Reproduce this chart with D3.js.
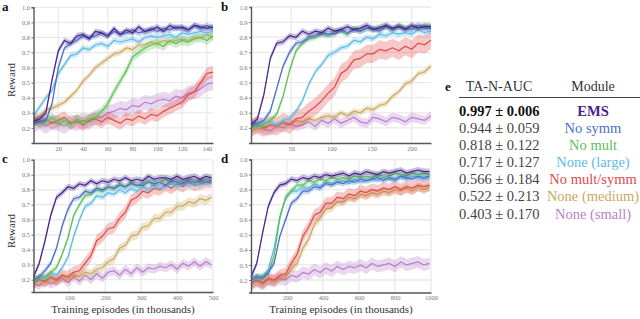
<!DOCTYPE html>
<html>
<head>
<meta charset="utf-8">
<script src="https://cdn.jsdelivr.net/npm/d3@7"></script>
<style>
  body { margin: 0; background: #fff; }
  svg { display: block; }
  svg text { font-family: "Liberation Serif", "Times New Roman", "DejaVu Serif", serif !important; }
</style>
</head>
<body>
<svg id="chart" width="640" height="319"></svg>
<script>
// learning curves, reward x100, one array per module and panel

const modules = ['EMS', 'No symm', 'No mult', 'None (large)', 'No mult/symm', 'None (medium)', 'None (small)'];
const colors = ['#46238d', '#4a71c6', '#5cc055', '#5dbbe8', '#e04a4a', '#c9a95e', '#b77fcb'];
const aucMean = ['0.997', '0.944', '0.818', '0.717', '0.566', '0.522', '0.403'];
const aucSd = ['0.006', '0.059', '0.122', '0.127', '0.184', '0.213', '0.170'];

// panel a
const aX = [0, 5, 10, 15, 20, 25, 30, 35, 40, 45, 50, 55, 60, 65, 70, 75, 80, 85, 90, 95, 100, 105, 110, 115, 120, 125, 130, 135, 140, 145];
const aEMS = [24, 26, 30, 52, 71, 78, 76, 81, 82, 79, 84, 83, 81, 86, 82, 85, 83, 87, 84, 85, 87, 84, 88, 86, 87, 85, 88, 87, 86, 87];
const aNoSymm = [23, 24, 25, 36, 60, 73, 76, 78, 81, 80, 81, 83, 81, 84, 82, 83, 85, 83, 84, 86, 84, 86, 85, 87, 86, 85, 88, 86, 88, 86];
const aNoMult = [25, 23, 24, 27, 23, 25, 22, 26, 24, 26, 27, 31, 36, 44, 51, 58, 67, 70, 73, 75, 76, 74, 78, 76, 78, 77, 79, 80, 78, 81];
const aLarge = [28, 34, 40, 45, 56, 62, 68, 69, 73, 72, 75, 76, 74, 78, 77, 78, 79, 77, 80, 81, 80, 81, 82, 80, 83, 82, 83, 84, 83, 84];
const aMultSymm = [27, 24, 26, 23, 25, 27, 23, 25, 22, 25, 26, 24, 27, 25, 23, 26, 25, 28, 26, 29, 28, 31, 33, 35, 37, 42, 44, 50, 56, 57];
const aMedium = [25, 28, 32, 33, 35, 37, 41, 45, 51, 55, 60, 63, 66, 69, 70, 73, 72, 75, 75, 77, 76, 78, 77, 78, 79, 78, 80, 80, 82, 80];
const aSmall = [22, 24, 21, 24, 23, 21, 24, 23, 25, 24, 27, 27, 30, 31, 33, 32, 35, 34, 37, 36, 38, 39, 38, 41, 40, 43, 44, 46, 49, 50];
const aBand = [2, 2, 3, 2, 4, 2, 5];

// panel b
const bX = [0, 8, 16, 24, 32, 40, 48, 56, 64, 72, 80, 88, 96, 104, 112, 120, 128, 136, 144, 152, 160, 168, 176, 184, 192, 200, 208, 216, 224];
const bEMS = [22, 26, 42, 66, 76, 77, 81, 80, 84, 82, 84, 83, 86, 84, 85, 87, 85, 86, 88, 85, 86, 88, 86, 87, 85, 88, 86, 87, 87];
const bNoSymm = [22, 23, 25, 31, 46, 61, 70, 76, 77, 80, 81, 83, 82, 82, 85, 83, 85, 84, 86, 86, 84, 87, 85, 87, 86, 85, 88, 86, 86];
const bNoMult = [20, 21, 22, 25, 29, 41, 58, 71, 76, 79, 80, 82, 81, 84, 84, 82, 86, 84, 86, 85, 87, 87, 85, 88, 86, 87, 86, 88, 87];
const bLarge = [24, 22, 23, 24, 22, 25, 26, 31, 38, 49, 57, 62, 68, 70, 73, 74, 78, 77, 80, 79, 82, 81, 83, 82, 83, 82, 85, 83, 84];
const bMultSymm = [20, 22, 20, 22, 21, 24, 22, 26, 27, 31, 34, 38, 43, 47, 56, 59, 65, 66, 69, 69, 72, 71, 73, 71, 74, 72, 76, 75, 78];
const bMedium = [18, 20, 19, 22, 21, 23, 22, 25, 24, 26, 25, 27, 28, 27, 30, 28, 31, 30, 33, 32, 35, 36, 41, 44, 49, 51, 56, 57, 61];
const bSmall = [18, 20, 19, 18, 21, 20, 23, 21, 22, 24, 21, 25, 23, 26, 23, 25, 27, 24, 23, 27, 26, 24, 27, 26, 24, 27, 26, 25, 28];
const bBand = [2, 2, 2, 2, 6, 2, 3];

// panel c
const cX = [0, 16, 32, 48, 64, 80, 96, 112, 128, 144, 160, 176, 192, 208, 224, 240, 256, 272, 288, 304, 320, 336, 352, 368, 384, 400, 416, 432, 448, 464, 480, 496];
const cEMS = [22, 31, 46, 63, 75, 78, 82, 81, 84, 83, 86, 84, 86, 85, 87, 86, 88, 86, 87, 86, 89, 87, 88, 88, 87, 89, 87, 88, 89, 87, 89, 88];
const cNoSymm = [20, 22, 26, 31, 41, 56, 67, 74, 75, 79, 78, 81, 80, 82, 81, 83, 82, 84, 83, 83, 85, 84, 85, 83, 86, 85, 84, 86, 85, 86, 85, 86];
const cNoMult = [18, 21, 22, 25, 28, 37, 48, 63, 70, 76, 77, 80, 79, 82, 81, 84, 82, 85, 83, 84, 86, 84, 85, 87, 85, 86, 85, 87, 86, 85, 87, 86];
const cLarge = [20, 22, 21, 24, 23, 28, 35, 49, 60, 69, 71, 76, 75, 78, 77, 80, 78, 81, 79, 82, 80, 83, 81, 82, 84, 82, 84, 83, 84, 83, 85, 84];
const cMultSymm = [18, 20, 19, 22, 20, 23, 22, 25, 26, 31, 36, 46, 49, 54, 55, 61, 65, 73, 75, 79, 78, 81, 80, 83, 81, 84, 82, 85, 83, 84, 85, 85];
const cMedium = [18, 20, 18, 21, 19, 22, 21, 23, 22, 25, 24, 27, 28, 32, 34, 41, 43, 49, 50, 55, 56, 61, 61, 65, 65, 69, 69, 72, 71, 74, 73, 75];
const cSmall = [18, 16, 20, 17, 19, 21, 18, 22, 19, 23, 20, 24, 21, 25, 26, 23, 27, 24, 28, 25, 28, 27, 29, 28, 30, 27, 31, 29, 32, 29, 32, 30];
const cBand = [2, 2, 2, 2, 4, 3, 3];

// panel d
const dX = [0, 32, 64, 96, 128, 160, 192, 224, 256, 288, 320, 352, 384, 416, 448, 480, 512, 544, 576, 608, 640, 672, 704, 736, 768, 800, 832, 864, 896, 928, 960, 992];
const dEMS = [22, 31, 51, 69, 78, 83, 84, 87, 86, 88, 87, 89, 88, 90, 89, 90, 91, 89, 91, 90, 92, 91, 90, 92, 91, 92, 93, 91, 92, 93, 92, 92];
const dNoSymm = [20, 22, 21, 25, 31, 49, 60, 71, 74, 79, 79, 82, 81, 84, 83, 85, 84, 86, 85, 87, 86, 87, 88, 86, 88, 87, 89, 88, 87, 89, 88, 89];
const dNoMult = [20, 21, 23, 24, 36, 61, 75, 79, 83, 83, 86, 85, 87, 86, 88, 87, 88, 87, 89, 88, 89, 88, 90, 89, 89, 91, 90, 89, 91, 90, 91, 90];
const dLarge = [22, 23, 22, 27, 41, 62, 74, 79, 79, 82, 81, 84, 82, 85, 84, 85, 86, 84, 87, 85, 86, 87, 86, 88, 87, 86, 88, 87, 89, 88, 87, 88];
const dMultSymm = [18, 20, 18, 21, 20, 23, 24, 31, 37, 49, 55, 63, 65, 71, 71, 75, 74, 77, 76, 79, 78, 80, 79, 81, 80, 82, 80, 82, 81, 83, 82, 83];
const dMedium = [17, 19, 17, 20, 19, 22, 22, 27, 31, 41, 47, 57, 61, 67, 68, 72, 72, 75, 74, 77, 76, 78, 77, 79, 78, 80, 79, 81, 79, 82, 80, 82];
const dSmall = [17, 19, 17, 20, 19, 21, 20, 23, 22, 25, 24, 27, 25, 28, 26, 29, 27, 29, 28, 30, 28, 31, 29, 30, 31, 29, 32, 30, 31, 32, 30, 31];
const dBand = [2, 2, 2, 2, 4, 3, 4];

const xTicksA = [20, 40, 60, 80, 100, 120, 140];
const xTicksB = [50, 100, 150, 200];
const xTicksC = [100, 200, 300, 400, 500];
const xTicksD = [200, 400, 600, 800, 1000];
const yTicks = [0.2, 0.3, 0.4, 0.5, 0.6, 0.7, 0.8, 0.9, 1.0];

const serif = '"Liberation Serif", "Times New Roman", serif';
const svg = d3.select('#chart');

const panels = [
  { id: 'a', xs: aX, series: [aEMS, aNoSymm, aNoMult, aLarge, aMultSymm, aMedium, aSmall], band: aBand,
    xmax: 145, ticks: xTicksA, left: 33.5, right: 213, top: 7.3, bottom: 143, ymin: 0.1, lx: 2, ly: 11 },
  { id: 'b', xs: bX, series: [bEMS, bNoSymm, bNoMult, bLarge, bMultSymm, bMedium, bSmall], band: bBand,
    xmax: 224, ticks: xTicksB, left: 251, right: 431, top: 7, bottom: 143, ymin: 0.1, lx: 221, ly: 11 },
  { id: 'c', xs: cX, series: [cEMS, cNoSymm, cNoMult, cLarge, cMultSymm, cMedium, cSmall], band: cBand,
    xmax: 500, ticks: xTicksC, left: 33.5, right: 213, top: 159.8, bottom: 292, ymin: 0.118, lx: 2, ly: 163 },
  { id: 'd', xs: dX, series: [dEMS, dNoSymm, dNoMult, dLarge, dMultSymm, dMedium, dSmall], band: dBand,
    xmax: 1000, ticks: xTicksD, left: 251, right: 431, top: 159.5, bottom: 292.5, ymin: 0.117, lx: 221, ly: 163 }
];

panels.forEach(p => {
  const x = d3.scaleLinear().domain([0, p.xmax]).range([p.left, p.right]);
  const y = d3.scaleLinear().domain([p.ymin, 1.0]).range([p.bottom, p.top]);
  const g = svg.append('g');

  // grid
  g.selectAll('.hg').data(yTicks).enter().append('line')
    .attr('x1', p.left).attr('x2', p.right)
    .attr('y1', d => y(d)).attr('y2', d => y(d))
    .attr('stroke', '#e9e9e9').attr('stroke-width', 1.3);
  g.selectAll('.vg').data(p.ticks).enter().append('line')
    .attr('x1', d => x(d)).attr('x2', d => x(d))
    .attr('y1', p.top).attr('y2', p.bottom)
    .attr('stroke', '#e9e9e9').attr('stroke-width', 1.3);

  // curves, weakest first so EMS ends on top
  const order = [6, 5, 4, 3, 2, 1, 0];
  order.forEach(i => {
    const vals = p.series[i];
    const pts = p.xs.map((xv, k) => [xv, vals[k] / 100]);
    const hw = p.band[i] / 100;
    const area = d3.area()
      .x(d => x(d[0]))
      .y0(d => y(d[1] - hw))
      .y1(d => y(d[1] + hw));
    const line = d3.line().x(d => x(d[0])).y(d => y(d[1]));
    g.append('path').attr('d', area(pts))
      .attr('fill', colors[i]).attr('fill-opacity', 0.3);
    g.append('path').attr('d', line(pts))
      .attr('fill', 'none').attr('stroke', colors[i]).attr('stroke-width', 1.2);
  });

  // axes
  const yAxis = g.append('g').attr('transform', `translate(${p.left},0)`)
    .call(d3.axisLeft(y).tickValues(yTicks).tickSize(2).tickPadding(1.5).tickFormat(d3.format('.1f')));
  const xAxis = g.append('g').attr('transform', `translate(0,${p.bottom})`)
    .call(d3.axisBottom(x).tickValues(p.ticks).tickSize(0).tickPadding(3).tickFormat(d3.format('d')));
  [yAxis, xAxis].forEach(ax => {
    ax.attr('font-family', serif);
    ax.select('.domain').attr('stroke', '#555').attr('stroke-width', 1.4);
    ax.selectAll('.tick line').attr('stroke', '#777');
    ax.selectAll('.tick text').attr('fill', '#777').attr('font-size', 6.5);
  });

  svg.append('text').attr('x', p.lx).attr('y', p.ly)
    .attr('font-family', serif)
    .attr('font-weight', 'bold').attr('font-size', 13).attr('fill', '#111')
    .text(p.id);
});

// axis titles
[80, 231].forEach(cy => {
  svg.append('text')
    .attr('transform', `translate(15,${cy}) rotate(-90)`)
    .attr('font-family', serif)
    .attr('text-anchor', 'middle').attr('font-size', 11).attr('fill', '#333')
    .text('Reward');
});
[123, 341].forEach(cx => {
  svg.append('text')
    .attr('x', cx).attr('y', 313)
    .attr('font-family', serif)
    .attr('text-anchor', 'middle').attr('font-size', 11).attr('fill', '#333')
    .text('Training episodes (in thousands)');
});

// table e
const tbl = svg.append('g').attr('font-family', serif);
tbl.append('text').attr('x', 445).attr('y', 91)
  .attr('font-weight', 'bold').attr('font-size', 13).attr('fill', '#111').text('e');
tbl.append('text').attr('x', 499).attr('y', 91).attr('text-anchor', 'middle')
  .attr('font-size', 14).attr('fill', '#333').text('TA-N-AUC');
tbl.append('text').attr('x', 593).attr('y', 91).attr('text-anchor', 'middle')
  .attr('font-size', 14).attr('fill', '#333').text('Module');
tbl.append('line').attr('x1', 459).attr('x2', 640).attr('y1', 97.5).attr('y2', 97.5)
  .attr('stroke', '#444').attr('stroke-width', 1);

const rowY = d3.scaleLinear().domain([0, 6]).range([115.5, 218.5]);
modules.forEach((m, i) => {
  tbl.append('text').attr('x', 459).attr('y', rowY(i))
    .attr('font-size', 14.5).attr('fill', i === 0 ? '#111' : '#444')
    .attr('font-weight', i === 0 ? 'bold' : 'normal')
    .text(`${aucMean[i]} ± ${aucSd[i]}`);
  tbl.append('text').attr('x', 593).attr('y', rowY(i)).attr('text-anchor', 'middle')
    .attr('font-size', 14.5).attr('fill', colors[i])
    .attr('font-weight', i === 0 ? 'bold' : 'normal')
    .text(m);
});
</script>
</body>
</html>
